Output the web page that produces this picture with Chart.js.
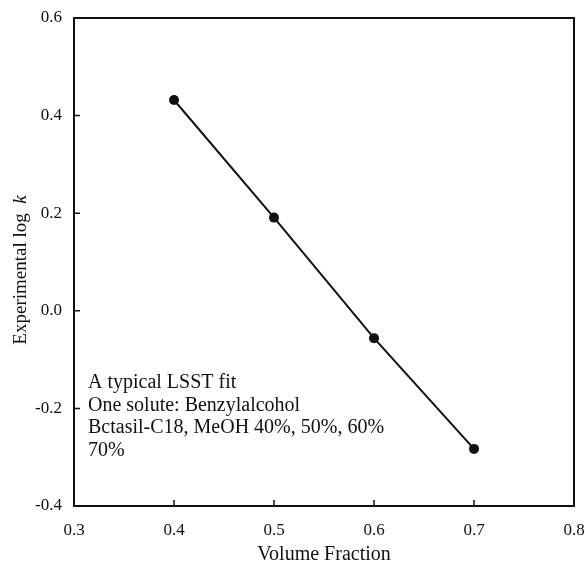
<!DOCTYPE html>
<html>
<head>
<meta charset="utf-8">
<script src="https://cdn.jsdelivr.net/npm/chart.js@4/dist/chart.umd.min.js"></script>
<style>
  html, body { margin: 0; padding: 0; background: #fff; }
  #wrap { width: 585px; height: 567px; }
</style>
</head>
<body>
<div id="wrap"><canvas id="fit" width="585" height="567"></canvas></div>
<script>
  // values
  const volFraction = [0.4, 0.5, 0.6, 0.7];
  const logK = [0.432, 0.191, -0.056, -0.283];
  const xTicks = [0.3, 0.4, 0.5, 0.6, 0.7, 0.8];
  const yTicks = [-0.4, -0.2, 0.0, 0.2, 0.4, 0.6];
  const notes = ["A typical LSST fit", "One solute: Benzylalcohol", "Bctasil-C18, MeOH 40%, 50%, 60%", "70%"];

  const SERIF = "'Liberation Serif', 'Times New Roman', serif";
  const INK = "#111";

  // box, inward ticks, y title with italic k, note block
  const frame = {
    id: "frame",
    afterDraw(chart) {
      const { ctx, chartArea: a, scales } = chart;
      ctx.save();
      ctx.strokeStyle = INK;
      ctx.lineWidth = 2;
      ctx.strokeRect(a.left, a.top, a.right - a.left, a.bottom - a.top);

      ctx.lineWidth = 1.5;
      ctx.beginPath();
      xTicks.forEach(v => { const px = scales.x.getPixelForValue(v); ctx.moveTo(px, a.bottom); ctx.lineTo(px, a.bottom - 6); });
      yTicks.forEach(v => { const py = scales.y.getPixelForValue(v); ctx.moveTo(a.left, py); ctx.lineTo(a.left + 6, py); });
      ctx.stroke();

      // y axis title
      ctx.fillStyle = INK;
      ctx.translate(21, 270);
      ctx.rotate(-Math.PI / 2);
      ctx.textBaseline = "middle";
      const main = "Experimental log  ";
      ctx.font = "19px " + SERIF;
      const w1 = ctx.measureText(main).width;
      ctx.font = "italic 19px " + SERIF;
      const w2 = ctx.measureText("k").width;
      ctx.font = "19px " + SERIF;
      ctx.textAlign = "left";
      ctx.fillText(main, -(w1 + w2) / 2, 0);
      ctx.font = "italic 19px " + SERIF;
      ctx.fillText("k", -(w1 + w2) / 2 + w1, 0);
      ctx.restore();

      ctx.save();
      ctx.fillStyle = INK;
      ctx.font = "20px " + SERIF;
      ctx.textBaseline = "middle";
      ctx.textAlign = "left";
      notes.forEach((t, i) => ctx.fillText(t, a.left + 14, 383 + i * 22.5));
      ctx.restore();
    }
  };

  new Chart(document.getElementById("fit"), {
    type: "scatter",
    data: {
      datasets: [{
        data: volFraction.map((x, i) => ({ x, y: logK[i] })),
        showLine: true,
        borderColor: INK,
        borderWidth: 2,
        backgroundColor: INK,
        pointRadius: 5,
        pointBorderWidth: 0,
        pointBackgroundColor: INK
      }]
    },
    options: {
      responsive: false,
      animation: false,
      devicePixelRatio: 1,
      layout: { padding: { top: 18, right: 11, left: 0, bottom: 0 } },
      plugins: { legend: { display: false }, tooltip: { enabled: false } },
      scales: {
        x: {
          type: "linear", min: 0.3, max: 0.8,
          afterBuildTicks: s => { s.ticks = xTicks.map(v => ({ value: v })); },
          afterFit: s => { s.height = 61; s.paddingLeft = 0; s.paddingRight = 0; },
          grid: { display: false, drawTicks: false },
          border: { display: false },
          ticks: { color: INK, padding: 14, font: { family: SERIF, size: 17 }, callback: v => v.toFixed(1) },
          title: { display: true, text: "Volume Fraction", color: INK, font: { family: SERIF, size: 20 }, padding: { top: 0, bottom: 0 } }
        },
        y: {
          type: "linear", min: -0.4, max: 0.6,
          afterBuildTicks: s => { s.ticks = yTicks.map(v => ({ value: v })); },
          afterFit: s => { s.width = 74; s.paddingTop = 0; s.paddingBottom = 0; },
          grid: { display: false, drawTicks: false },
          border: { display: false },
          ticks: { color: INK, padding: 12, font: { family: SERIF, size: 17 }, callback: v => v.toFixed(1) }
        }
      }
    },
    plugins: [frame]
  });
</script>
</body>
</html>
